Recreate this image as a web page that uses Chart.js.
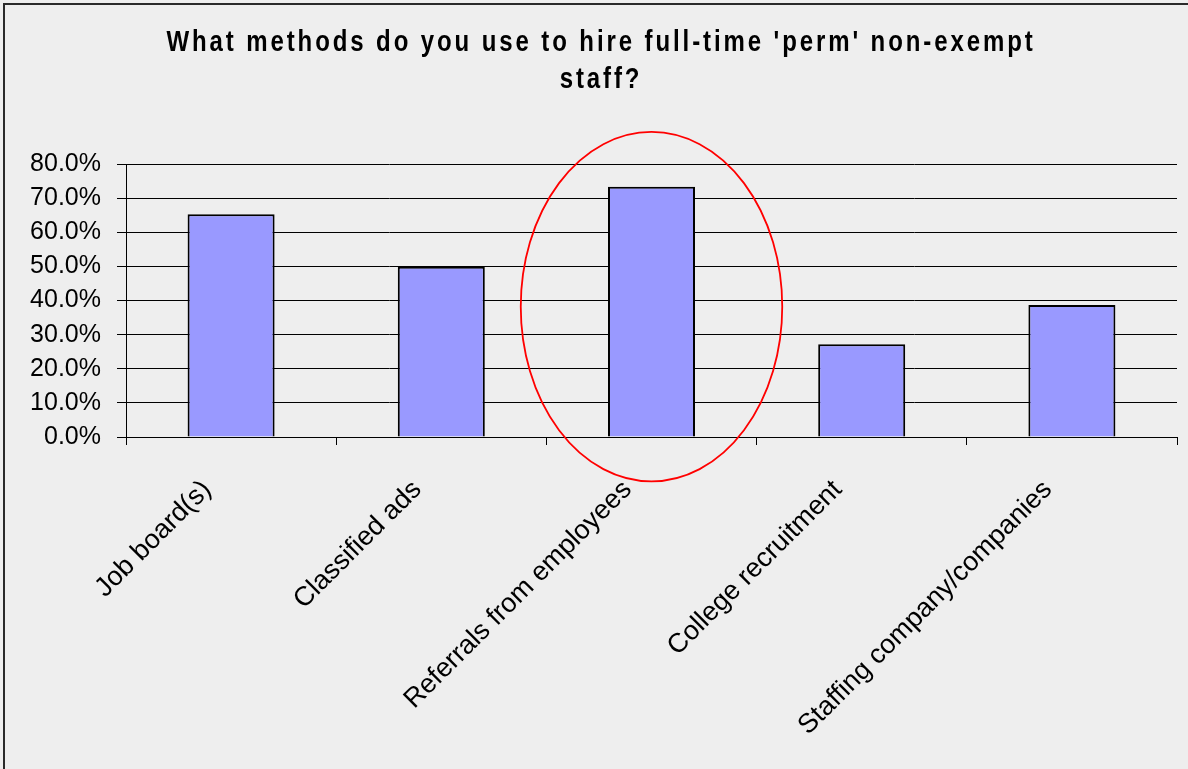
<!DOCTYPE html>
<html>
<head>
<meta charset="utf-8">
<script src="https://cdn.jsdelivr.net/npm/chart.js@4.4.0/dist/chart.umd.min.js"></script>
<style>
  html, body { margin: 0; padding: 0; background: #eeeeee; }
  #wrap { width: 1188px; height: 769px; position: relative; }
</style>
</head>
<body>
<div id="wrap"><canvas id="c" width="1188" height="769"></canvas></div>
<script>
// Survey answers: share of respondents using each hiring method
const categories = [
  'Job board(s)',
  'Classified ads',
  'Referrals from employees',
  'College recruitment',
  'Staffing company/companies'
];
const shares = [0.653, 0.499, 0.733, 0.272, 0.387];
const yTicks = [0, 0.1, 0.2, 0.3, 0.4, 0.5, 0.6, 0.7, 0.8];
const titleLines = [
  "What methods do you use to hire full-time 'perm' non-exempt",
  'staff?'
];
// Highlighted category (ringed in red)
const highlightIndex = 2;

const FONT = '"Liberation Sans", Arial, sans-serif';

// Background, frame lines, title, and the highlight ring
const decorations = {
  id: 'decorations',
  beforeDraw(chart) {
    const ctx = chart.ctx;
    ctx.save();
    ctx.fillStyle = '#eeeeee';
    ctx.fillRect(0, 0, chart.width, chart.height);
    ctx.fillStyle = '#2a2a2a';
    ctx.fillRect(3, 3, chart.width, 2);
    ctx.fillRect(3, 3, 2, chart.height);
    ctx.restore();
  },
  afterDraw(chart) {
    const ctx = chart.ctx;
    // Title: bold, tracked out and slightly tall
    const baselines = [51, 88];
    titleLines.forEach((line, i) => {
      ctx.save();
      ctx.translate(601, baselines[i]);
      ctx.scale(1, 1.2);
      ctx.fillStyle = '#000';
      ctx.font = 'bold 24px ' + FONT;
      ctx.textAlign = 'center';
      ctx.textBaseline = 'alphabetic';
      if ('letterSpacing' in ctx) ctx.letterSpacing = '2.9px';
      ctx.fillText(line, 0, 0);
      ctx.restore();
    });

    const x = chart.scales.x, y = chart.scales.y;
    const step = x.getPixelForValue(1) - x.getPixelForValue(0);
    const cx = x.getPixelForValue(highlightIndex);
    const cy = y.getPixelForValue(0.382);
    const rx = step * 0.622;
    const ry = y.getPixelForValue(0) - y.getPixelForValue(0.512);
    ctx.save();
    ctx.strokeStyle = '#ff0000';
    ctx.lineWidth = 1.8;
    ctx.beginPath();
    ctx.ellipse(cx, cy, rx, ry, 0, 0, Math.PI * 2);
    ctx.stroke();
    ctx.restore();
  }
};

new Chart(document.getElementById('c'), {
  type: 'bar',
  data: {
    labels: categories,
    datasets: [{
      data: shares,
      backgroundColor: '#9999ff',
      borderColor: '#000000',
      borderWidth: 2,
      categoryPercentage: 1,
      barPercentage: 0.414
    }]
  },
  options: {
    responsive: false,
    devicePixelRatio: 1,
    animation: false,
    layout: { padding: { left: 0, right: 11, top: 164, bottom: 0 } },
    plugins: {
      legend: { display: false },
      title: { display: false },
      tooltip: { enabled: false }
    },
    scales: {
      x: {
        grid: {
          offset: true,
          drawOnChartArea: false,
          drawTicks: true,
          tickLength: 8,
          color: '#000'
        },
        border: { color: '#000', width: 1 },
        ticks: {
          maxRotation: 45,
          minRotation: 45,
          autoSkip: false,
          labelOffset: -24,
          padding: 29,
          color: '#000',
          font: { family: FONT, size: 27 }
        },
        afterFit(scale) { scale.height = 769 - 437; }
      },
      y: {
        min: 0,
        max: 0.8,
        afterBuildTicks(scale) { scale.ticks = yTicks.map(v => ({ value: v })); },
        grid: { color: '#000', lineWidth: 1, tickLength: 9 },
        border: { color: '#000', width: 1 },
        ticks: {
          padding: 16,
          color: '#000',
          font: { family: FONT, size: 25 },
          callback: v => (v * 100).toFixed(1) + '%'
        },
        afterFit(scale) { scale.width = 126; }
      }
    }
  },
  plugins: [decorations]
});
</script>
</body>
</html>
